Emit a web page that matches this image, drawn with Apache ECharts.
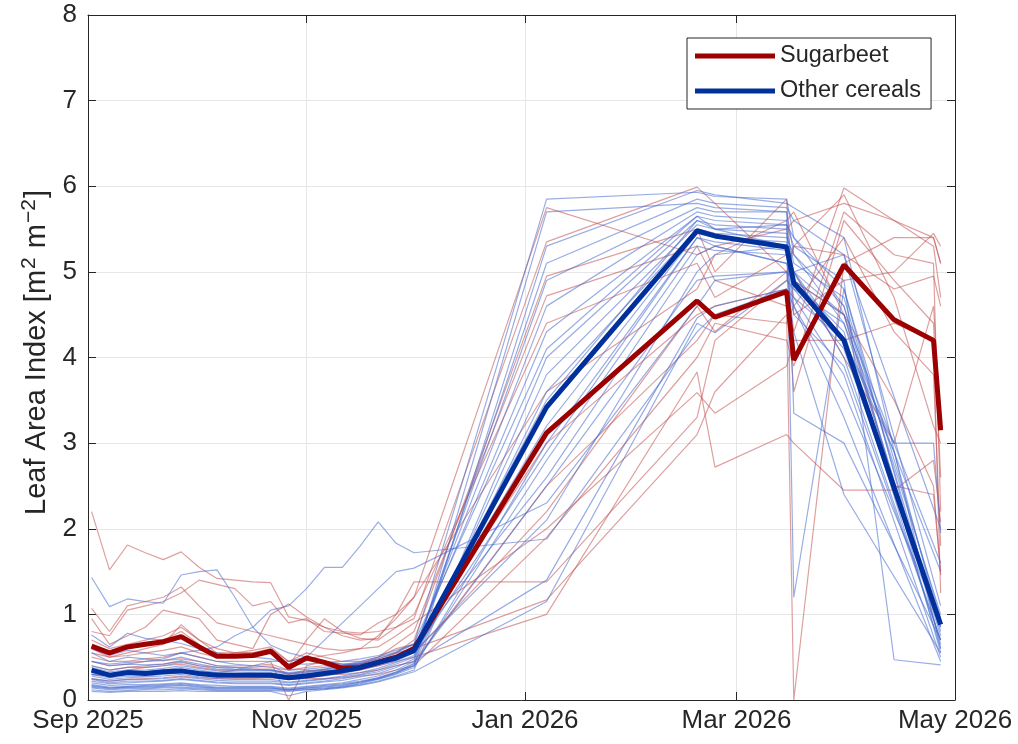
<!DOCTYPE html>
<html>
<head>
<meta charset="utf-8">
<script src="https://cdn.jsdelivr.net/npm/echarts@6/dist/echarts.min.js"></script>
<style>
  html, body { margin: 0; padding: 0; background: #ffffff; }
  #chart { width: 1018px; height: 744px; }
</style>
</head>
<body>
<div id="chart"></div>
<script>
// observation dates shared by all fields
const obsDates = [
  '2025-09-02', '2025-09-07', '2025-09-12', '2025-09-17', '2025-09-22', '2025-09-27',
  '2025-10-02', '2025-10-07', '2025-10-12', '2025-10-17', '2025-10-22', '2025-10-27',
  '2025-11-01', '2025-11-06', '2025-11-11', '2025-11-16', '2025-11-21', '2025-11-26',
  '2025-12-01', '2026-01-07', '2026-02-18', '2026-02-23', '2026-03-15', '2026-03-17',
  '2026-03-31', '2026-04-14', '2026-04-25', '2026-04-27'
];

const tickDates = ['2025-09-01', '2025-11-01', '2026-01-01', '2026-03-01', '2026-05-01'];
const monthNames = ['Jan', 'Feb', 'Mar', 'Apr', 'May', 'Jun', 'Jul', 'Aug', 'Sep', 'Oct', 'Nov', 'Dec'];
const yTicks = [0, 1, 2, 3, 4, 5, 6, 7, 8];

// mean curves
const sugarbeetMean = [0.63, 0.55, 0.62, 0.65, 0.68, 0.74, 0.62, 0.51, 0.51, 0.52, 0.57, 0.38, 0.49, 0.44, 0.37, 0.38, 0.44, 0.50, 0.60,
  3.12, 4.66, 4.47, 4.77, 3.97, 5.08, 4.44, 4.20, 3.15];
const cerealMean = [0.35, 0.29, 0.32, 0.31, 0.33, 0.34, 0.31, 0.29, 0.29, 0.29, 0.29, 0.26, 0.28, 0.31, 0.34, 0.38, 0.44, 0.49, 0.58,
  3.42, 5.48, 5.42, 5.29, 4.87, 4.20, null, null, 0.88];

// single sugarbeet fields
const sugarbeetFields = [
  [0.80, 0.75, 1.05, 1.10, 1.15, 1.25, 1.40, 1.35, 1.30, 1.10, 1.15, 0.90, 0.95, 0.80, 0.78, 0.76, 0.90, 1.00, 1.20, 5.75, 5.20, 5.30, 5.50, 5.60, 5.80, 5.60, 5.40, 5.10],
  [2.20, 1.52, 1.81, 1.72, 1.64, 1.73, 1.55, 1.42, 1.40, 1.38, 1.37, 0.97, 0.93, 0.85, 0.80, 0.78, 0.80, 0.85, 0.95, 5.35, 5.99, 5.80, 5.00, 4.90, 4.50, 3.50, 2.50, 1.46],
  [0.62, 0.55, 0.60, 0.65, 0.70, 0.80, 0.65, 0.50, 0.55, 0.58, 0.62, 0.45, 0.50, 0.45, 0.40, 0.42, 0.48, 0.55, 0.70, 4.95, 5.50, 5.00, 5.85, 4.50, 4.90, 5.00, 5.45, 5.30],
  [0.45, 0.40, 0.42, 0.45, 0.46, 0.48, 0.45, 0.40, 0.40, 0.40, 0.42, 0.35, 0.38, 0.40, 0.40, 0.42, 0.50, 0.65, 0.80, 4.72, 5.30, 4.90, 4.60, 4.30, 5.98, 5.60, 5.30, 4.70],
  [0.95, 0.65, 0.75, 0.85, 1.05, 1.00, 0.95, 0.70, 0.65, 0.60, 1.00, 1.12, 0.97, 0.85, 0.75, 0.70, 0.72, 1.00, 1.38, 1.38, 3.30, 4.20, 4.90, 5.30, 5.20, 4.80, 4.95, 4.60],
  [0.50, 0.45, 0.45, 0.48, 0.50, 0.55, 0.50, 0.45, 0.45, 0.45, 0.45, 0.00, 0.40, 0.45, 0.42, 0.42, 0.45, 0.55, 0.60, 1.17, 3.10, 3.60, 4.50, 0.00, 5.10, 5.40, 5.40, 5.10],
  [0.35, 0.30, 0.35, 0.38, 0.40, 0.42, 0.38, 0.35, 0.35, 0.36, 0.36, 0.30, 0.33, 0.35, 0.34, 0.36, 0.40, 0.45, 0.50, 1.00, 3.83, 2.72, 3.10, 3.00, 2.45, 2.45, 2.80, 2.08],
  [1.07, 0.80, 1.10, 1.15, 1.20, 1.32, 1.10, 0.90, 0.85, 0.80, 0.75, 0.70, 0.65, 0.60, 0.58, 0.60, 0.62, 0.75, 0.90, 2.00, 3.59, 3.35, 3.90, 4.20, 4.20, 4.40, 4.20, 1.25],
  [0.70, 0.60, 0.65, 0.70, 0.75, 0.85, 0.70, 0.55, 0.55, 0.55, 0.60, 0.45, 0.55, 0.50, 0.45, 0.45, 0.50, 0.60, 0.65, 3.00, 4.50, 4.60, 4.80, 3.60, 5.60, 4.90, 4.40, 2.60],
  [0.60, 0.50, 0.55, 0.60, 0.65, 0.88, 0.70, 0.60, 0.55, 0.55, 0.58, 0.40, 0.70, 0.95, 0.80, 0.72, 0.70, 0.85, 1.00, 4.40, 5.10, 4.70, 5.20, 5.00, 4.00, 3.00, 4.60, 3.20],
  [0.30, 0.28, 0.30, 0.32, 0.33, 0.35, 0.32, 0.30, 0.30, 0.30, 0.30, 0.28, 0.30, 0.30, 0.30, 0.32, 0.35, 0.40, 0.45, 2.50, 4.20, 4.50, 4.40, 4.60, 5.40, 4.30, 3.80, 1.80],
  [0.55, 0.50, 0.52, 0.55, 0.58, 0.62, 0.55, 0.50, 0.50, 0.52, 0.55, 0.42, 0.48, 0.52, 0.55, 0.60, 0.75, 0.95, 1.20, 3.60, 4.80, 5.20, 5.60, 5.70, 4.50, 2.50, 2.40, 1.50],
  [0.25, 0.22, 0.24, 0.25, 0.26, 0.28, 0.26, 0.25, 0.25, 0.25, 0.26, 0.24, 0.25, 0.25, 0.26, 0.28, 0.30, 0.35, 0.40, 1.90, 4.00, 4.40, 4.20, 3.90, 5.70, 5.20, 5.10, 2.20],
  [0.40, 0.35, 0.38, 0.40, 0.42, 0.45, 0.40, 0.38, 0.38, 0.38, 0.40, 0.30, 0.35, 0.33, 0.33, 0.35, 0.40, 0.50, 0.55, 2.20, 4.60, 4.30, 5.00, 5.30, 5.90, 4.70, 3.20, 3.00]
];

// single cereal fields
const cerealFields = [
  [1.43, 1.09, 1.18, 1.15, 1.13, 1.46, 1.50, 1.52, 1.20, 0.85, 0.64, 0.55, 0.50, 0.45, 0.42, 0.42, 0.45, 0.50, 0.55, 2.90, 5.40, 5.30, 5.10, 4.60, 3.60, null, null, 0.90],
  [0.45, 0.42, 0.44, 0.45, 0.48, 0.55, 0.58, 0.62, 0.75, 0.85, 1.05, 1.10, 1.30, 1.55, 1.55, 1.80, 2.08, 1.83, 1.72, 1.88, 4.30, 4.50, 4.80, 4.70, 4.20, 3.00, 3.00, 1.95],
  [0.30, 0.28, 0.30, 0.32, 0.33, 0.35, 0.33, 0.32, 0.35, 0.40, 0.45, 0.45, 0.50, 0.70, 0.90, 1.10, 1.30, 1.50, 1.54, 2.30, 4.60, 4.90, 5.00, 4.50, 3.90, null, null, 0.70],
  [0.76, 0.62, 0.78, 0.72, 0.70, 0.66, 0.60, 0.55, 0.52, 0.50, 0.48, 0.42, 0.42, 0.44, 0.45, 0.48, 0.52, 0.58, 0.65, 5.85, 5.93, 5.88, 5.85, 5.40, 4.80, null, null, 0.95],
  [0.15, 0.13, 0.14, 0.14, 0.15, 0.15, 0.14, 0.13, 0.13, 0.13, 0.13, 0.12, 0.13, 0.14, 0.16, 0.20, 0.25, 0.32, 0.40, 5.30, 5.95, 5.90, 5.80, 5.75, 5.40, null, null, 0.60],
  [0.20, 0.17, 0.18, 0.18, 0.19, 0.20, 0.18, 0.17, 0.16, 0.16, 0.16, 0.14, 0.16, 0.18, 0.20, 0.24, 0.28, 0.35, 0.45, 5.70, 5.80, 5.75, 5.70, 5.20, 4.60, null, null, 0.55],
  [0.25, 0.22, 0.24, 0.24, 0.25, 0.27, 0.25, 0.23, 0.22, 0.22, 0.22, 0.20, 0.22, 0.24, 0.27, 0.30, 0.35, 0.42, 0.50, 5.10, 5.85, 5.80, 5.75, 5.60, 5.20, null, null, 1.10],
  [0.30, 0.26, 0.28, 0.28, 0.30, 0.32, 0.30, 0.28, 0.27, 0.27, 0.27, 0.24, 0.26, 0.28, 0.31, 0.35, 0.40, 0.46, 0.55, 4.90, 5.75, 5.70, 5.70, 3.35, 3.00, null, null, 0.70],
  [0.35, 0.30, 0.33, 0.33, 0.35, 0.38, 0.35, 0.32, 0.31, 0.31, 0.30, 0.27, 0.30, 0.32, 0.35, 0.38, 0.42, 0.48, 0.58, 4.60, 5.70, 5.65, 5.60, 1.20, 4.80, null, null, 0.65],
  [0.40, 0.35, 0.38, 0.38, 0.40, 0.44, 0.40, 0.36, 0.35, 0.34, 0.34, 0.30, 0.32, 0.35, 0.38, 0.42, 0.45, 0.50, 0.60, 4.30, 5.65, 5.60, 5.55, 5.30, 4.90, 0.47, null, 0.41],
  [0.12, 0.10, 0.11, 0.12, 0.12, 0.13, 0.12, 0.11, 0.11, 0.11, 0.11, 0.10, 0.12, 0.13, 0.15, 0.18, 0.22, 0.28, 0.35, 4.00, 5.60, 5.55, 5.50, 5.10, 4.70, null, null, 0.80],
  [0.18, 0.15, 0.16, 0.17, 0.18, 0.19, 0.17, 0.15, 0.15, 0.15, 0.15, 0.13, 0.15, 0.17, 0.19, 0.22, 0.26, 0.32, 0.42, 3.80, 5.55, 5.50, 5.45, 5.00, 4.50, null, null, 0.75],
  [0.22, 0.19, 0.20, 0.21, 0.22, 0.24, 0.22, 0.20, 0.19, 0.19, 0.19, 0.17, 0.19, 0.21, 0.23, 0.27, 0.31, 0.38, 0.48, 3.60, 5.50, 5.45, 5.40, 5.20, 4.40, null, null, 0.85],
  [0.28, 0.24, 0.26, 0.27, 0.28, 0.30, 0.27, 0.25, 0.24, 0.24, 0.24, 0.21, 0.23, 0.25, 0.28, 0.32, 0.37, 0.44, 0.52, 3.40, 5.50, 5.40, 5.35, 4.90, 4.30, null, null, 0.60],
  [0.45, 0.40, 0.42, 0.41, 0.42, 0.46, 0.42, 0.38, 0.36, 0.35, 0.35, 0.31, 0.33, 0.36, 0.39, 0.43, 0.47, 0.52, 0.62, 3.20, 5.45, 5.40, 5.30, 4.80, 4.10, null, null, 0.90],
  [0.14, 0.12, 0.13, 0.13, 0.14, 0.14, 0.13, 0.12, 0.12, 0.12, 0.12, 0.11, 0.12, 0.13, 0.15, 0.19, 0.24, 0.30, 0.38, 3.00, 5.40, 5.35, 5.25, 5.00, 4.00, null, null, 0.70],
  [0.17, 0.14, 0.15, 0.16, 0.17, 0.18, 0.16, 0.14, 0.14, 0.14, 0.14, 0.12, 0.14, 0.16, 0.18, 0.21, 0.25, 0.31, 0.40, 2.80, 5.30, 5.25, 5.20, 4.70, 3.80, null, null, 0.50],
  [0.55, 0.45, 0.50, 0.48, 0.46, 0.50, 0.45, 0.40, 0.38, 0.36, 0.35, 0.32, 0.34, 0.36, 0.40, 0.44, 0.48, 0.55, 0.65, 2.60, 5.20, 5.30, 5.10, 4.90, 4.50, null, null, 1.60],
  [0.32, 0.28, 0.30, 0.30, 0.31, 0.34, 0.31, 0.29, 0.28, 0.28, 0.28, 0.25, 0.27, 0.29, 0.32, 0.36, 0.41, 0.47, 0.56, 2.10, 5.00, 5.20, 5.30, 5.00, 5.20, null, null, 2.00],
  [0.10, 0.09, 0.10, 0.10, 0.10, 0.11, 0.10, 0.10, 0.10, 0.10, 0.10, 0.05, 0.10, 0.12, 0.14, 0.17, 0.21, 0.27, 0.33, 1.15, 4.40, 4.29, 4.90, 4.80, 4.40, null, null, 1.50],
  [0.24, 0.20, 0.22, 0.22, 0.23, 0.25, 0.23, 0.21, 0.20, 0.20, 0.20, 0.18, 0.20, 0.22, 0.25, 0.29, 0.33, 0.40, 0.45, 1.40, 4.46, 4.60, 4.80, 4.60, 3.30, null, null, 0.45],
  [0.38, 0.33, 0.35, 0.35, 0.37, 0.40, 0.37, 0.34, 0.33, 0.32, 0.32, 0.28, 0.31, 0.33, 0.36, 0.40, 0.44, 0.50, 0.60, 3.50, 5.60, 5.50, 5.55, 5.40, 4.60, null, null, 1.00],
  [0.60, 0.52, 0.58, 0.55, 0.52, 0.55, 0.50, 0.45, 0.42, 0.40, 0.38, 0.35, 0.36, 0.38, 0.41, 0.45, 0.50, 0.56, 0.66, 4.10, 5.65, 5.50, 5.30, 5.00, 4.20, 2.90, null, 0.85],
  [0.16, 0.14, 0.15, 0.15, 0.16, 0.17, 0.15, 0.14, 0.14, 0.14, 0.14, 0.12, 0.14, 0.15, 0.17, 0.21, 0.26, 0.33, 0.43, 2.50, 4.90, 4.95, 5.00, 4.30, 2.40, null, null, 0.55]
];

const FONT = 'Liberation Sans, Arial, Helvetica, sans-serif';
const AXIS_COLOR = '#262626';
const RED = '#9c0000';
const BLUE = '#00309c';

const toTime = (s) => {
  const p = s.split('-').map(Number);
  return new Date(p[0], p[1] - 1, p[2]).getTime();
};
const toPoints = (vals) => obsDates.map((d, i) => [toTime(d), vals[i]]);
const tickTimes = tickDates.map(toTime);

const thinLine = (name, vals, color) => ({
  name: name,
  type: 'line',
  data: toPoints(vals),
  showSymbol: false,
  connectNulls: true,
  silent: true,
  z: 2,
  lineStyle: { width: 1.2, color: color },
  emphasis: { disabled: true },
});

const series = [];
sugarbeetFields.forEach((f, i) => series.push(thinLine('sb' + i, f, 'rgba(195,80,80,0.55)')));
cerealFields.forEach((f, i) => series.push(thinLine('ce' + i, f, 'rgba(70,105,205,0.55)')));
series.push({
  name: 'Sugarbeet',
  type: 'line',
  data: toPoints(sugarbeetMean),
  showSymbol: false,
  connectNulls: true,
  z: 3,
  color: RED,
  itemStyle: { color: RED },
  lineStyle: { width: 5, color: RED },
});
series.push({
  name: 'Other cereals',
  type: 'line',
  data: toPoints(cerealMean),
  showSymbol: false,
  connectNulls: true,
  z: 4,
  color: BLUE,
  itemStyle: { color: BLUE },
  lineStyle: { width: 5, color: BLUE },
});

// time is kept as plain millisecond values, ticks placed on month starts
const xBase = {
  type: 'value',
  min: tickTimes[0],
  max: tickTimes[tickTimes.length - 1],
  axisLine: { show: true, onZero: false, lineStyle: { color: AXIS_COLOR, width: 1 } },
  axisTick: { show: true, inside: true, length: 8, customValues: tickTimes, lineStyle: { color: AXIS_COLOR } },
};

const yBase = {
  type: 'value',
  min: 0,
  max: 8,
  interval: 1,
  axisLine: { show: true, onZero: false, lineStyle: { color: AXIS_COLOR, width: 1 } },
  axisTick: { show: true, inside: true, length: 8, lineStyle: { color: AXIS_COLOR } },
};

const chart = echarts.init(document.getElementById('chart'));
chart.setOption({
  animation: false,
  backgroundColor: '#ffffff',
  textStyle: { fontFamily: FONT },
  grid: { left: 88, right: 63, top: 15, bottom: 44 },
  legend: {
    data: ['Sugarbeet', 'Other cereals'],
    orient: 'vertical',
    left: 687,
    top: 38,
    icon: 'rect',
    itemWidth: 80,
    itemHeight: 5,
    itemGap: 11,
    padding: [6, 10, 6, 8],
    borderColor: AXIS_COLOR,
    borderWidth: 1,
    backgroundColor: '#ffffff',
    selectedMode: false,
    textStyle: { fontSize: 23.5, color: AXIS_COLOR, fontFamily: FONT },
  },
  xAxis: [
    Object.assign({}, xBase, {
      position: 'bottom',
      axisLabel: {
        show: true,
        customValues: tickTimes,
        fontSize: 26,
        color: AXIS_COLOR,
        margin: 8,
        fontFamily: FONT,
        formatter: (v) => {
          const d = new Date(v);
          return monthNames[d.getMonth()] + ' ' + d.getFullYear();
        },
      },
      splitLine: { show: true, lineStyle: { color: '#e6e6e6', width: 1 } },
    }),
    Object.assign({}, xBase, {
      position: 'top',
      axisLabel: { show: false },
      splitLine: { show: false },
    }),
  ],
  yAxis: [
    Object.assign({}, yBase, {
      position: 'left',
      name: 'Leaf Area Index [m{sup|2} m{sup|\u22122}]',
      nameLocation: 'middle',
      nameGap: 34,
      nameTextStyle: {
        fontSize: 29,
        color: AXIS_COLOR,
        fontFamily: FONT,
        padding: [0, 0, 0, 10],
        rich: {
          sup: {
            fontSize: 21,
            verticalAlign: 'top',
            color: AXIS_COLOR,
            fontFamily: FONT,
            padding: [0, 1, 14, 1],
          },
        },
      },
      axisLabel: {
        fontSize: 26,
        color: AXIS_COLOR,
        margin: 11,
        fontFamily: FONT,
        formatter: (v) => (yTicks.indexOf(v) >= 0 ? String(v) : ''),
      },
      splitLine: { show: true, lineStyle: { color: '#e6e6e6', width: 1 } },
    }),
    Object.assign({}, yBase, {
      position: 'right',
      axisLabel: { show: false },
      splitLine: { show: false },
    }),
  ],
  series: series,
});
</script>
</body>
</html>
